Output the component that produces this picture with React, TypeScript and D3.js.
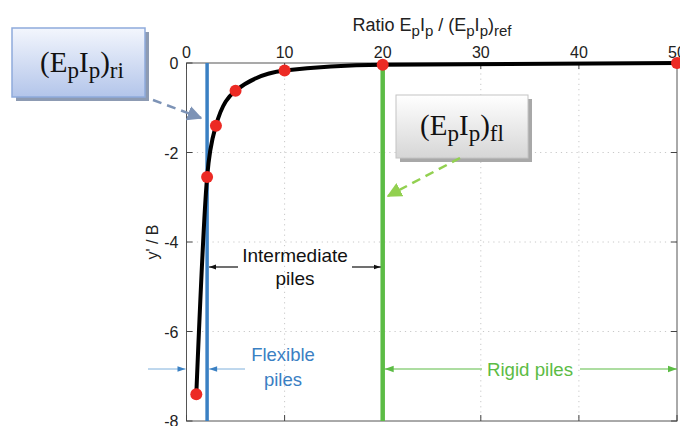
import React from "react";
import * as d3 from "d3";

// Pile stiffness ratio vs normalised deflection
const ratio = [1, 2.1, 3, 5, 10, 20, 50];
const deflection = [-7.4, -2.55, -1.4, -0.62, -0.17, -0.04, 0];
const xTicks = [0, 10, 20, 30, 40, 50];
const yTicks = [0, -2, -4, -6, -8];
const flexibleLimit = 2.1;
const rigidLimit = 20;

const W = 680;
const H = 426;
const plot = { left: 186.5, right: 677, top: 63, bottom: 421 };
const FONT = "'Liberation Sans', Arial, Helvetica, sans-serif";
const SERIF = "'Liberation Serif', 'DejaVu Serif', serif";

const BLUE = "#3a80c3";
const GREEN = "#5cbc45";
const RED = "#ec2a24";

export default function App() {
  const x = d3.scaleLinear().domain([0, 50]).range([plot.left, plot.right]);
  const y = d3.scaleLinear().domain([-8, 0]).range([plot.bottom, plot.top]);

  const pts: [number, number][] = ratio.map((r, i) => [r, deflection[i]]);
  const line = d3
    .line<[number, number]>()
    .x((d) => x(d[0]))
    .y((d) => y(d[1]))
    .curve(d3.curveMonotoneX);

  const sub = (t: string, size: number, shift = "-30%") => (
    <tspan baselineShift={shift} fontSize={size}>
      {t}
    </tspan>
  );

  return (
    <svg
      width={W}
      height={H}
      style={{ position: "absolute", left: 0, top: 0, background: "#fff" }}
      fontFamily={FONT}
    >
      <defs>
        <linearGradient id="gBlue" x1="0" y1="0" x2="0" y2="1">
          <stop offset="0" stopColor="#f3f6fd" />
          <stop offset="1" stopColor="#b3c5ea" />
        </linearGradient>
        <linearGradient id="gGray" x1="0" y1="0" x2="0" y2="1">
          <stop offset="0" stopColor="#ffffff" />
          <stop offset="1" stopColor="#d6d6d6" />
        </linearGradient>
        <marker id="mBlack" viewBox="0 0 10 10" refX="10" refY="5" markerWidth="7" markerHeight="7" orient="auto-start-reverse" markerUnits="userSpaceOnUse">
          <path d="M0,1.5 L10,5 L0,8.5 Z" fill="#111" />
        </marker>
        <marker id="mBlue" viewBox="0 0 10 10" refX="10" refY="5" markerWidth="16" markerHeight="8" orient="auto-start-reverse" markerUnits="userSpaceOnUse">
          <path d="M0,1.5 L10,5 L0,8.5 Z" fill={BLUE} />
        </marker>
        <marker id="mGreen" viewBox="0 0 10 10" refX="10" refY="5" markerWidth="18" markerHeight="9" orient="auto-start-reverse" markerUnits="userSpaceOnUse">
          <path d="M0,1.5 L10,5 L0,8.5 Z" fill={GREEN} />
        </marker>
        <marker id="mSteel" viewBox="0 0 10 10" refX="9" refY="5" markerWidth="15" markerHeight="15" orient="auto" markerUnits="userSpaceOnUse">
          <path d="M0,0 L10,5 L0,10 Z" fill="#7d93b6" />
        </marker>
        <marker id="mLime" viewBox="0 0 10 10" refX="9" refY="5" markerWidth="15" markerHeight="15" orient="auto" markerUnits="userSpaceOnUse">
          <path d="M0,0 L10,5 L0,10 Z" fill="#92d050" />
        </marker>
      </defs>

      {/* grid */}
      {xTicks.slice(1, -1).map((t) => (
        <line key={"gx" + t} x1={x(t)} x2={x(t)} y1={plot.top} y2={plot.bottom} stroke="#c8c8c8" strokeWidth={1} strokeDasharray="1.2,4" />
      ))}
      {yTicks.slice(1, -1).map((t) => (
        <line key={"gy" + t} x1={plot.left} x2={plot.right} y1={y(t)} y2={y(t)} stroke="#c8c8c8" strokeWidth={1} strokeDasharray="1.2,4" />
      ))}

      {/* frame and inward ticks */}
      <rect x={plot.left} y={plot.top} width={plot.right - plot.left} height={plot.bottom - plot.top} fill="none" stroke="#555" strokeWidth={1} />
      {xTicks.map((t) => (
        <g key={"tx" + t}>
          <line x1={x(t)} x2={x(t)} y1={plot.top} y2={plot.top + 6} stroke="#444" />
          <line x1={x(t)} x2={x(t)} y1={plot.bottom} y2={plot.bottom - 6} stroke="#444" />
          <text x={x(t)} y={plot.top - 5} textAnchor="middle" fontSize={16} fill="#222">
            {t}
          </text>
        </g>
      ))}
      {yTicks.map((t) => (
        <g key={"ty" + t}>
          <line x1={plot.left} x2={plot.left + 6} y1={y(t)} y2={y(t)} stroke="#444" />
          <line x1={plot.right} x2={plot.right - 6} y1={y(t)} y2={y(t)} stroke="#444" />
          <text x={plot.left - 8} y={y(t) + 6} textAnchor="end" fontSize={16} fill="#222">
            {t === 0 ? "0" : "-" + Math.abs(t)}
          </text>
        </g>
      ))}

      {/* axis titles */}
      <text x={432} y={31} textAnchor="middle" fontSize={18} fill="#222">
        Ratio E{sub("p", 15)}I{sub("p", 15)} / (E{sub("p", 15)}I{sub("p", 15)}){sub("ref", 15)}
      </text>
      <text transform={`translate(158, ${y(-4)}) rotate(-90)`} textAnchor="middle" fontSize={16} fill="#222">
        y' / B
      </text>

      {/* limit lines */}
      <line x1={x(flexibleLimit)} x2={x(flexibleLimit)} y1={plot.top} y2={plot.bottom} stroke={BLUE} strokeWidth={3.5} />
      <line x1={x(rigidLimit)} x2={x(rigidLimit)} y1={plot.top} y2={plot.bottom} stroke={GREEN} strokeWidth={4.5} />

      {/* curve and points */}
      <path d={line(pts) ?? ""} fill="none" stroke="#000" strokeWidth={4} strokeLinejoin="round" />
      {pts.map((p, i) => (
        <circle key={i} cx={x(p[0])} cy={y(p[1])} r={6} fill={RED} />
      ))}

      {/* intermediate piles */}
      <text x={295} y={262} textAnchor="middle" fontSize={19} fill="#111">Intermediate</text>
      <text x={295} y={285} textAnchor="middle" fontSize={19} fill="#111">piles</text>
      <line x1={238} x2={x(flexibleLimit) + 2} y1={267} y2={267} stroke="#111" strokeWidth={1.2} markerEnd="url(#mBlack)" />
      <line x1={352} x2={x(rigidLimit) - 2} y1={267} y2={267} stroke="#111" strokeWidth={1.2} markerEnd="url(#mBlack)" />

      {/* flexible piles */}
      <text x={283} y={361} textAnchor="middle" fontSize={18.5} fill={BLUE}>Flexible</text>
      <text x={283} y={386} textAnchor="middle" fontSize={18.5} fill={BLUE}>piles</text>
      <line x1={148} x2={plot.left - 1} y1={369} y2={369} stroke="#7fb0dc" strokeWidth={1} markerEnd="url(#mBlue)" />
      <line x1={245} x2={x(flexibleLimit) + 2} y1={369} y2={369} stroke="#7fb0dc" strokeWidth={1} markerEnd="url(#mBlue)" />

      {/* rigid piles */}
      <text x={530} y={376} textAnchor="middle" fontSize={18.7} fill={GREEN}>Rigid piles</text>
      <line x1={482} x2={x(rigidLimit) + 2} y1={369} y2={369} stroke={GREEN} strokeWidth={1.2} markerEnd="url(#mGreen)" />
      <line x1={580} x2={plot.right} y1={369} y2={369} stroke={GREEN} strokeWidth={1.2} markerEnd="url(#mGreen)" />

      {/* callout: (EpIp)ri */}
      <rect x={16} y={32} width={133} height={69} fill="#8d9bb3" />
      <rect x={12} y={28} width={133} height={69} fill="url(#gBlue)" stroke="#8eaadb" strokeWidth={1.5} />
      <text x={82} y={72} textAnchor="middle" fontFamily={SERIF} fontSize={29} fill="#111">
        (E{sub("p", 23, "-25%")}I{sub("p", 23, "-25%")}){sub("ri", 23, "-25%")}
      </text>
      <line x1={153} y1={100} x2={201} y2={118} stroke="#7d93b6" strokeWidth={2.5} strokeDasharray="9,6" markerEnd="url(#mSteel)" />

      {/* callout: (EpIp)fl */}
      <rect x={400} y={99} width={132} height={63} fill="#a8a8a8" />
      <rect x={396} y={95} width={132} height={63} fill="url(#gGray)" stroke="#c4c4c4" strokeWidth={1} />
      <text x={462} y={135} textAnchor="middle" fontFamily={SERIF} fontSize={29} fill="#111">
        (E{sub("p", 23, "-25%")}I{sub("p", 23, "-25%")}){sub("fl", 23, "-25%")}
      </text>
      <line x1={460} y1={158} x2={388} y2={196} stroke="#92d050" strokeWidth={2.5} strokeDasharray="9,6" markerEnd="url(#mLime)" />
    </svg>
  );
}
